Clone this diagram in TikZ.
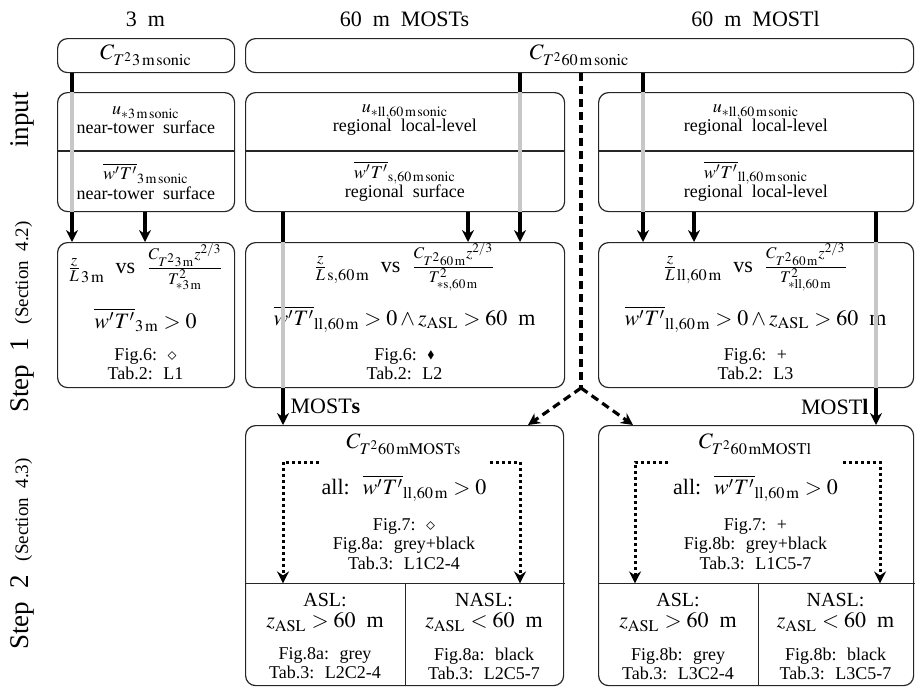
\documentclass[tikz,border=0pt]{standalone}
\usepackage{amssymb}
\usepackage{mathptmx}
\usepackage{fontspec}
\setmainfont{Liberation Serif}[WordSpace=2.0]
\usetikzlibrary{arrows.meta,positioning}
\definecolor{pipegrey}{gray}{0.78}
\newcommand{\boxfont}{\fontsize{9}{9.6}\selectfont}
\newcommand{\eqfont}{\fontsize{11}{13}\selectfont}
\newcommand{\aslfont}{\fontsize{10}{12}\selectfont}
\newcommand{\sidefont}{\fontsize{13.5}{15}\selectfont}
\newcommand{\secfont}{\fontsize{9.5}{11}\selectfont}
\newcommand{\filldia}{\raisebox{0.2ex}{\scalebox{0.6}{$\blacklozenge$}}}
\begin{document}
\begin{tikzpicture}[x=0.5pt,y=-0.5pt,
 box/.style={draw=black!85,line width=0.6pt,rounded corners=5pt,anchor=north west,inner sep=0pt},
 cell/.style={anchor=north west,inner sep=0pt,align=center,font=\boxfont},
 lbl/.style={align=center,inner sep=0pt,font=\boxfont},
 eq/.style={align=center,inner sep=0pt,font=\eqfont},
 side/.style={rotate=90,inner sep=0pt,font=\sidefont},
 sep/.style={draw=black!85,line width=0.6pt},
 pipe/.style={line width=1.6pt},
 ghost/.style={line width=2.2pt,draw=pipegrey},
 dashline/.style={line width=1.6pt,dash pattern=on 4pt off 2.5pt},
 dotline/.style={line width=1.5pt,dash pattern=on 1.5pt off 1.5pt},
 >={Stealth[length=6pt,width=6pt,inset=2pt]}]
\useasboundingbox (0,0) rectangle (915,687);
\node[eq] (h3) at (145.5,19) {3 m};
\node[eq] (hS) at (404.5,19) {60 m MOSTs};
\node[eq] (hL) at (755.5,19) {60 m MOSTl};
\node[side] (sideIn) at (22,120) {input};
\node[side] (sideA) at (22,317) {Step 1 {\secfont(Section 4.2)}};
\node[side] (sideB) at (22,554) {Step 2 {\secfont(Section 4.3)}};
\node[box,minimum width=88.5pt,minimum height=17pt,font=\eqfont] (top3) at (57,38) {$C_{T^2 3\,\mathrm{m\,sonic}}$};
\node[box,minimum width=334pt,minimum height=17pt,font=\eqfont] (top60) at (245,38) {$C_{T^2 60\,\mathrm{m\,sonic}}$};
\node[box,minimum width=88.5pt,minimum height=59.5pt] (in3) at (57,92) {};
\node[box,minimum width=159.5pt,minimum height=59.5pt] (inS) at (245,92) {};
\node[box,minimum width=157.5pt,minimum height=59.5pt] (inL) at (598,92) {};
\node[cell,minimum width=88.5pt,minimum height=28pt] (in3a) at (in3.north west) {$u_{*3\,\mathrm{m\,sonic}}$\\near-tower surface};
\node[cell,minimum width=88.5pt,minimum height=30pt] (in3b) at (57,151) {$\overline{w'T'}_{3\,\mathrm{m\,sonic}}$\\near-tower surface};
\node[cell,minimum width=159.5pt,minimum height=28pt] (inSa) at (inS.north west) {$u_{*\mathrm{ll},60\,\mathrm{m\,sonic}}$\\regional local-level};
\node[cell,minimum width=159.5pt,minimum height=30pt] (inSb) at (245,151) {$\overline{w'T'}_{\mathrm{s},60\,\mathrm{m\,sonic}}$\\regional surface};
\node[cell,minimum width=157.5pt,minimum height=28pt] (inLa) at (inL.north west) {$u_{*\mathrm{ll},60\,\mathrm{m\,sonic}}$\\regional local-level};
\node[cell,minimum width=157.5pt,minimum height=30pt] (inLb) at (598,151) {$\overline{w'T'}_{\mathrm{ll},60\,\mathrm{m\,sonic}}$\\regional local-level};
\draw[sep] (in3b.north west) -- (in3b.north east);
\draw[sep] (inSb.north west) -- (inSb.north east);
\draw[sep] (inLb.north west) -- (inLb.north east);
\node[box,minimum width=88.5pt,minimum height=72.5pt] (st3) at (57,242) {};
\node[box,minimum width=159.5pt,minimum height=72.5pt] (stS) at (245,242) {};
\node[box,minimum width=157.5pt,minimum height=72.5pt] (stL) at (598,242) {};
\node[eq] (st3a) at (145.5,267) {$\frac{z}{L}_{3\,\mathrm{m}}$ vs $\frac{C_{T^2 3\,\mathrm{m}}z^{2/3}}{T^2_{*3\,\mathrm{m}}}$};
\node[eq] (st3b) at (145.5,320) {$\overline{w'T'}_{3\,\mathrm{m}} > 0$};
\node[lbl] (st3c) at (145.5,364) {Fig.6: $\diamond$\\Tab.2: L1};
\node[eq] (stSa) at (404.5,267) {$\frac{z}{L}_{\mathrm{s},60\,\mathrm{m}}$ vs $\frac{C_{T^2 60\,\mathrm{m}}z^{2/3}}{T^2_{*\mathrm{s},60\,\mathrm{m}}}$};
\node[eq] (stSb) at (404.5,319) {$\overline{w'T'}_{\mathrm{ll},60\,\mathrm{m}} > 0 \wedge z_{\mathrm{ASL}} > 60$~m};
\node[lbl] (stSc) at (404.5,364) {Fig.6: \filldia\\Tab.2: L2};
\node[eq] (stLa) at (755.5,267) {$\frac{z}{L}_{\mathrm{ll},60\,\mathrm{m}}$ vs $\frac{C_{T^2 60\,\mathrm{m}}z^{2/3}}{T^2_{*\mathrm{ll},60\,\mathrm{m}}}$};
\node[eq] (stLb) at (755.5,319) {$\overline{w'T'}_{\mathrm{ll},60\,\mathrm{m}} > 0 \wedge z_{\mathrm{ASL}} > 60$~m};
\node[lbl] (stLc) at (755.5,364) {Fig.6: +\\Tab.2: L3};
\node[box,minimum width=159pt,minimum height=130pt] (ovS) at (245,425) {};
\node[box,minimum width=157.5pt,minimum height=130pt] (ovL) at (598,425) {};
\node[cell,anchor=south west,minimum width=80pt,minimum height=51pt] (aslS) at (ovS.south west) {};
\node[cell,anchor=south west,minimum width=79pt,minimum height=51pt] (naslS) at (aslS.south east) {};
\node[cell,anchor=south west,minimum width=80pt,minimum height=51pt] (aslL) at (ovL.south west) {};
\node[cell,anchor=south west,minimum width=77.5pt,minimum height=51pt] (naslL) at (aslL.south east) {};
\draw[sep] (aslS.north west) -- (naslS.north east) (aslS.north east) -- (aslS.south east);
\draw[sep] (aslL.north west) -- (naslL.north east) (aslL.north east) -- (aslL.south east);
\node[eq] (cS) at (404,444) {$C_{T^2 60\,\mathrm{mMOSTs}}$};
\node[eq] (allS) at (404,488) {all: $\overline{w'T'}_{\mathrm{ll},60\,\mathrm{m}} > 0$};
\node[lbl] (figS) at (404,544) {Fig.7: $\diamond$\\Fig.8a: grey+black\\Tab.3: L1C2-4};
\node[eq] (cL) at (755.5,444) {$C_{T^2 60\,\mathrm{mMOSTl}}$};
\node[eq] (allL) at (755.5,488) {all: $\overline{w'T'}_{\mathrm{ll},60\,\mathrm{m}} > 0$};
\node[lbl] (figL) at (755.5,544) {Fig.7: +\\Fig.8b: grey+black\\Tab.3: L1C5-7};
\node[font=\aslfont,inner sep=0pt] (aslSa) at (325,600) {ASL:};
\node[eq] (aslSb) at (325,622) {$z_{\mathrm{ASL}} > 60$~m};
\node[lbl] (aslSc) at (325,663.5) {Fig.8a: grey\\Tab.3: L2C2-4};
\node[font=\aslfont,inner sep=0pt] (naslSa) at (484,600) {NASL:};
\node[eq] (naslSb) at (484,622) {$z_{\mathrm{ASL}} < 60$~m};
\node[lbl] (naslSc) at (484,663.5) {Fig.8a: black\\Tab.3: L2C5-7};
\node[font=\aslfont,inner sep=0pt] (aslLa) at (678,600) {ASL:};
\node[eq] (aslLb) at (678,622) {$z_{\mathrm{ASL}} > 60$~m};
\node[lbl] (aslLc) at (678,663.5) {Fig.8b: grey\\Tab.3: L3C2-4};
\node[font=\aslfont,inner sep=0pt] (naslLa) at (835.5,600) {NASL:};
\node[eq] (naslLb) at (835.5,622) {$z_{\mathrm{ASL}} < 60$~m};
\node[lbl] (naslLc) at (835.5,663.5) {Fig.8b: black\\Tab.3: L3C5-7};
\coordinate (xA) at (72,0);
\coordinate (xB) at (145,0);
\coordinate (xC) at (283,0);
\coordinate (xD) at (468,0);
\coordinate (xE) at (520,0);
\coordinate (xF) at (643,0);
\coordinate (xG) at (694,0);
\coordinate (xH) at (876,0);
\coordinate (xS) at (528,0);
\coordinate (xL) at (633,0);
\coordinate (fork) at (581,388);
\draw[pipe] (top3.south -| xA) -- (in3.north -| xA);
\draw[ghost] (in3.north -| xA) -- (in3.south -| xA);
\draw[pipe,->] (in3.south -| xA) -- (st3.north -| xA);
\draw[pipe,->] (in3.south -| xB) -- (st3.north -| xB);
\draw[pipe,->] (inS.south -| xD) -- (stS.north -| xD);
\draw[pipe] (top60.south -| xE) -- (inS.north -| xE);
\draw[ghost] (inS.north -| xE) -- (inS.south -| xE);
\draw[pipe,->] (inS.south -| xE) -- (stS.north -| xE);
\draw[pipe] (inS.south -| xC) -- (stS.north -| xC);
\draw[ghost] (stS.north -| xC) -- (stS.south -| xC);
\draw[pipe,->] (stS.south -| xC) -- node[midway,right=3pt,inner sep=0pt,font=\eqfont]{MOST\textbf{s}} (ovS.north -| xC);
\draw[pipe] (top60.south -| xF) -- (inL.north -| xF);
\draw[ghost] (inL.north -| xF) -- (inL.south -| xF);
\draw[pipe,->] (inL.south -| xF) -- (stL.north -| xF);
\draw[pipe,->] (inL.south -| xG) -- (stL.north -| xG);
\draw[pipe] (inL.south -| xH) -- (stL.north -| xH);
\draw[ghost] (stL.north -| xH) -- (stL.south -| xH);
\draw[pipe,->] (stL.south -| xH) -- node[midway,left=3pt,inner sep=0pt,font=\eqfont]{MOST\textbf{l}} (ovL.north -| xH);
\draw[dashline] (top60.south -| fork) -- (fork);
\draw[dashline,->] (fork) -- (ovS.north -| xS);
\draw[dashline,->] (fork) -- (ovL.north -| xL);
\coordinate (pS1) at (319,462);
\coordinate (pS2) at (490,462);
\coordinate (pL1) at (668,462);
\coordinate (pL2) at (843,462);
\coordinate (xP) at (635,0);
\coordinate (xQ) at (880,0);
\draw[dotline,->] (pS1) -- (pS1 -| xC) -- (aslS.north -| xC);
\draw[dotline,->] (pS2) -- (pS2 -| xE) -- (naslS.north -| xE);
\draw[dotline,->] (pL1) -- (pL1 -| xP) -- (aslL.north -| xP);
\draw[dotline,->] (pL2) -- (pL2 -| xQ) -- (naslL.north -| xQ);
\end{tikzpicture}
\end{document}
